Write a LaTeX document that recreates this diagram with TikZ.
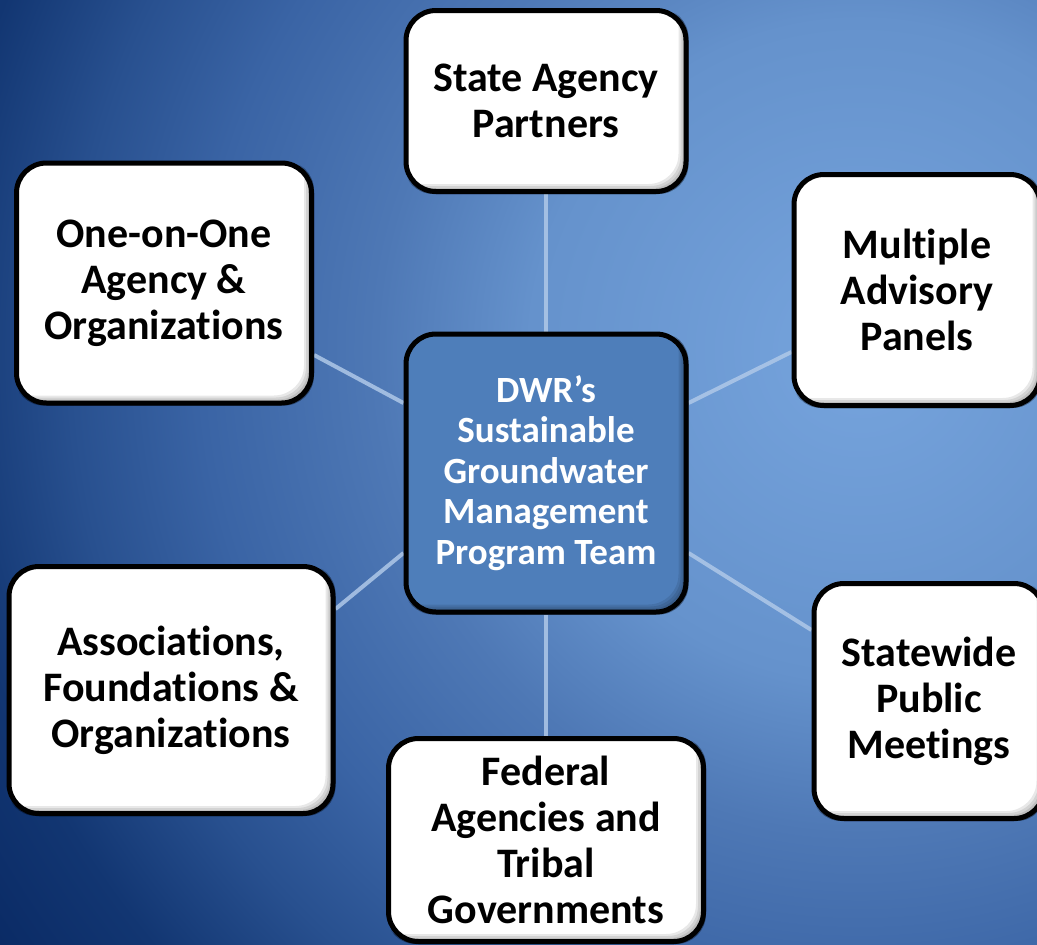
\documentclass[tikz,border=0pt]{standalone}
\usepackage{fontspec}
\setmainfont{Carlito}[Ligatures={NoCommon,NoDiscretionary,NoContextual}]
\usetikzlibrary{calc}
\definecolor{bgA}{HTML}{76A4DD}
\definecolor{bgB}{HTML}{6592CC}
\definecolor{bgC}{HTML}{4E78B5}
\definecolor{bgD}{HTML}{3A64A5}
\definecolor{bgE}{HTML}{28508F}
\definecolor{bgF}{HTML}{123672}
\definecolor{bgG}{HTML}{072660}
\definecolor{linkc}{HTML}{AFC8E8}
\definecolor{hubfill}{HTML}{4E7EBA}
\pgfdeclareradialshading{bgshade}{\pgfpoint{0bp}{0bp}}{color(0bp)=(bgA); color(7.5bp)=(bgB); color(11bp)=(bgC); color(15bp)=(bgD); color(18bp)=(bgE); color(21bp)=(bgF); color(25bp)=(bgG); color(50bp)=(bgG)}
\pgfdeclarelayer{bglayer}
\pgfdeclarelayer{linklayer}
\pgfsetlayers{bglayer,linklayer,main}
\newcommand\boxshade[2]{%
  \begin{scope}
    \clip[rounded corners=30pt] (#1.south west) rectangle (#1.north east);
    \foreach \d in {2,4,6,8,10}{%
      \fill[#2,opacity=0.09,even odd rule]
        ([shift={(-40pt,-40pt)}]#1.south west) rectangle ([shift={(40pt,40pt)}]#1.north east)
        [rounded corners=30pt]
        ([shift={(-\d pt,\d pt)}]#1.south west) rectangle ([shift={(-\d pt,\d pt)}]#1.north east);
    }
  \end{scope}}
\tikzset{
  box/.style={draw=black, line width=5pt, fill=white, rounded corners=30pt,
    align=center, inner sep=0pt, text=black,
    font=\fontsize{42}{46}\selectfont\bfseries},
  hub/.style={box, fill=hubfill, text=white,
    font=\fontsize{37}{40.5}\selectfont\bfseries},
  link/.style={draw=linkc, line width=4pt, opacity=0.85}
}
\begin{document}
\begin{tikzpicture}[x=1pt,y=-1pt]
\useasboundingbox (0,0) rectangle (1037,945);
\begin{pgfonlayer}{bglayer}
  \clip (0,0) rectangle (1037,945);
  \shade[shading=bgshade] (860,350) circle (1100pt);
\end{pgfonlayer}

% boxes
\node[hub, minimum width=280pt, minimum height=278pt] (c) at (546,473)
  {DWR's\\Sustainable\\Groundwater\\Management\\Program Team};
\boxshade{c}{black}
\node[box, minimum width=280pt, minimum height=181pt] (sa) at (546,101)
  {State Agency\\Partners};
\boxshade{sa}{black}
\node[box, minimum width=295pt, minimum height=240pt] (oo) at (164,283)
  {One-on-One\\Agency \&\\Organizations};
\boxshade{oo}{black}
\node[box, minimum width=246pt, minimum height=231pt] (mp) at (917,290)
  {Multiple\\Advisory\\Panels};
\boxshade{mp}{black}
\node[box, minimum width=230pt, minimum height=235pt] (sw) at (929,701)
  {Statewide\\Public\\Meetings};
\boxshade{sw}{black}
\node[box, minimum width=324pt, minimum height=247pt] (as) at (171,690)
  {Associations,\\Foundations \&\\Organizations};
\boxshade{as}{black}
\node[box, minimum width=315pt, minimum height=203pt] (fd) at (546,840)
  {Federal\\Agencies and\\Tribal\\Governments};
\boxshade{fd}{black}

% connectors
\begin{pgfonlayer}{linklayer}
\draw[link] (sa.south) -- (c.north);
\draw[link] (c.south) -- (fd.north);
\draw[link] ([yshift=-72pt]oo.east) -- ([yshift=70pt]c.west);
\draw[link] ([yshift=81pt]as.east) -- ([yshift=-80pt]c.west);
\draw[link] ([yshift=70pt]c.east) -- ([yshift=-62pt]mp.west);
\draw[link] ([yshift=-80pt]c.east) -- ([yshift=71pt]sw.west);
\end{pgfonlayer}
\end{tikzpicture}
\end{document}
